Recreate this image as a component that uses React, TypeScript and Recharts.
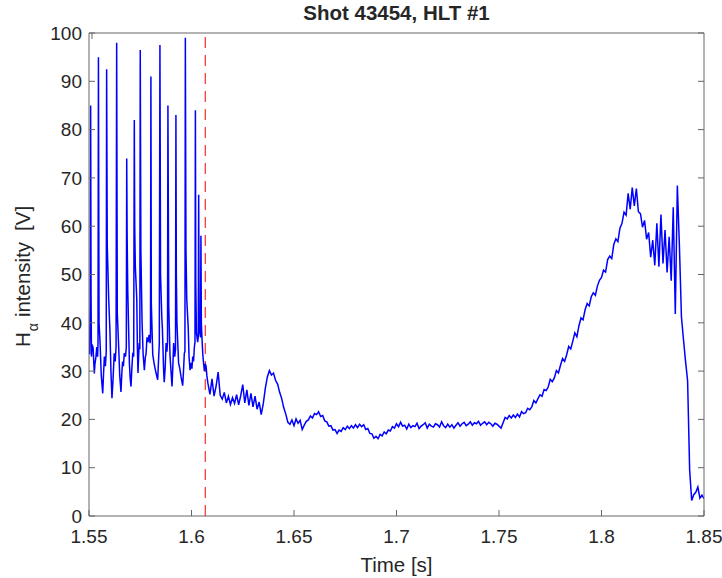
import React from 'react';
import { LineChart, Line, XAxis, YAxis, ReferenceLine } from 'recharts';

// ELM phase, irregular sampling so the spikes keep their shape
const elmTime = [
  1.5500, 1.5503, 1.5506, 1.5508, 1.5510, 1.5512, 1.5515, 1.5520, 1.5526, 1.5529,
  1.5534, 1.5538, 1.5542, 1.5544, 1.5546, 1.5549, 1.5554, 1.5560, 1.5567, 1.5571,
  1.5575, 1.5580, 1.5584, 1.5586, 1.5589, 1.5596, 1.5602, 1.5607, 1.5612, 1.5617,
  1.5623, 1.5628, 1.5632, 1.5635, 1.5638, 1.5645, 1.5650, 1.5656, 1.5660, 1.5664,
  1.5668, 1.5672, 1.5678, 1.5682, 1.5684, 1.5686, 1.5689, 1.5697, 1.5701, 1.5705,
  1.5709, 1.5713, 1.5718, 1.5721, 1.5723, 1.5726, 1.5733, 1.5736, 1.5739, 1.5742,
  1.5745, 1.5748, 1.5750, 1.5753, 1.5759, 1.5764, 1.5770, 1.5775, 1.5778, 1.5783,
  1.5788, 1.5793, 1.5798, 1.5800, 1.5802, 1.5804, 1.5811, 1.5818, 1.5827, 1.5835,
  1.5840, 1.5843, 1.5846, 1.5849, 1.5855, 1.5858, 1.5864, 1.5867, 1.5872, 1.5876,
  1.5880, 1.5883, 1.5885, 1.5889, 1.5895, 1.5900, 1.5905, 1.5909, 1.5913, 1.5918,
  1.5922, 1.5924, 1.5926, 1.5929, 1.5937, 1.5943, 1.5949, 1.5957, 1.5961, 1.5965,
  1.5968, 1.5970, 1.5973, 1.5977, 1.5984, 1.5988, 1.5993, 1.5998, 1.6002, 1.6006,
  1.6010, 1.6014, 1.6017, 1.6019, 1.6021, 1.6024, 1.6030, 1.6033, 1.6035, 1.6037,
  1.6040, 1.6044, 1.6046, 1.6048, 1.6051, 1.6055, 1.6058, 1.6063, 1.6067, 1.6071,
  1.6075,
];

const elmSignal = [
  36.0, 33.5, 44.0, 85.0, 46.0, 33.0, 35.5, 34.8, 29.5, 31.5,
  33.0, 35.0, 33.0, 36.0, 95.0, 40.0, 35.8, 29.0, 25.4, 29.5,
  33.0, 31.0, 34.0, 92.5, 56.0, 45.0, 38.5, 30.0, 24.4, 28.0,
  33.7, 32.0, 35.0, 98.0, 42.0, 34.8, 29.0, 25.7, 29.5, 32.0,
  31.0, 33.7, 33.0, 35.0, 74.0, 58.0, 46.8, 31.7, 28.5, 26.8,
  30.5, 33.4, 33.0, 82.0, 60.0, 51.6, 45.0, 35.0, 29.6, 33.0,
  35.8, 34.5, 96.5, 55.0, 39.9, 33.5, 30.2, 33.0, 33.4, 37.0,
  36.0, 37.5, 35.8, 37.0, 91.0, 44.0, 33.4, 31.5, 29.6, 28.2,
  33.0, 35.8, 97.5, 50.0, 41.3, 38.8, 30.2, 27.7, 31.0, 35.8,
  34.0, 36.0, 85.0, 43.7, 33.4, 30.0, 26.8, 31.0, 35.8, 33.0,
  34.5, 83.0, 50.0, 40.0, 31.7, 30.5, 28.8, 27.0, 30.0, 33.7,
  34.0, 99.0, 55.0, 44.7, 39.0, 33.0, 30.2, 31.7, 30.5, 33.0,
  32.0, 35.0, 36.0, 84.0, 48.0, 38.0, 36.0, 37.0, 66.5, 42.0,
  38.0, 37.0, 58.0, 40.0, 37.0, 33.5, 32.0, 30.0, 31.5, 31.0,
  29.0,
];

// L-mode phase, 1 ms sampling from 1.608 s
const lmodeStart = 1.608;
const lmodeSignal = [
  27.5, 25.2,
  28.4, 24.8, 26.9, 29.8, 25.0, 24.2, 25.6, 23.4, 24.8, 23.1, // 1.61
  24.5, 23.3, 25.1, 23.0, 24.9, 27.2, 23.4, 26.1, 22.9, 25.4, // 1.62
  22.6, 24.8, 22.1, 23.6, 21.0, 23.2, 26.4, 28.8, 30.1, 29.2, // 1.63
  29.6, 28.1, 27.3, 25.6, 24.3, 22.4, 21.1, 19.4, 19.0, 19.9, // 1.64
  18.7, 20.1, 19.2, 19.8, 17.9, 18.8, 19.6, 19.9, 20.7, 20.3, // 1.65
  21.2, 21.0, 21.6, 20.6, 20.8, 19.7, 19.5, 18.6, 18.7, 17.8, // 1.66
  17.9, 17.1, 17.8, 17.5, 18.3, 17.9, 18.6, 18.1, 18.7, 18.2, // 1.67
  18.9, 18.3, 19.0, 18.5, 18.9, 17.9, 18.1, 17.1, 17.0, 16.1, // 1.68
  16.5, 16.0, 16.9, 16.6, 17.4, 17.0, 17.8, 17.6, 18.5, 18.2, // 1.69
  19.1, 18.5, 19.4, 18.6, 18.8, 18.0, 19.0, 18.3, 18.7, 18.5, // 1.70
  19.2, 18.1, 18.6, 18.9, 19.3, 18.2, 19.0, 18.6, 18.4, 19.1, // 1.71
  18.9, 18.4, 19.5, 18.7, 18.3, 19.0, 18.4, 18.9, 18.2, 18.8, // 1.72
  19.3, 18.6, 19.1, 19.4, 18.7, 19.0, 19.5, 18.8, 19.3, 19.1, // 1.73
  19.6, 18.8, 19.2, 19.5, 18.9, 19.4, 19.1, 18.6, 19.2, 19.0, // 1.74
  18.6,
];

// rise towards the density limit and the final drop, 1 ms sampling from 1.751 s
const rampStart = 1.751;
const rampSignal = [
  18.2, 19.3, 20.4, 20.1, 20.8, 20.3, 20.9, 20.4, 21.1,
  20.5, 21.6, 21.2, 21.4, 22.3, 22.0, 22.6, 23.9, 23.4, 24.3, // 1.76
  25.1, 24.8, 26.2, 26.0, 26.7, 28.3, 27.8, 28.6, 30.1, 29.6, // 1.77
  31.2, 32.6, 32.0, 33.4, 35.1, 34.6, 36.2, 37.9, 37.1, 39.4, // 1.78
  41.0, 40.6, 42.7, 44.0, 43.5, 45.4, 46.2, 45.7, 47.6, 48.8, // 1.79
  49.4, 50.9, 50.5, 53.1, 53.8, 53.3, 56.2, 57.4, 56.8, 59.6, // 1.80
  60.6, 62.9, 62.3, 66.8, 63.5, 68.0, 64.2, 67.8, 63.0, 62.6, // 1.81
  59.8, 61.2, 57.3, 58.7, 53.6, 57.1, 51.9, 60.6, 51.6, 62.4, // 1.82
  52.3, 59.2, 50.4, 57.8, 48.7, 63.9, 41.8, 68.4, 56.0, 41.2, // 1.83
  36.5, 32.0, 28.0, 9.5, 3.2, 4.4, 4.9, 6.0, 3.7, 4.3,        // 1.84
  3.6,
];
const sampleStep = 0.001;

const hltTime = 1.6067;
const timeTicks = [1.55, 1.6, 1.65, 1.7, 1.75, 1.8, 1.85];
const intensityTicks = [0, 10, 20, 30, 40, 50, 60, 70, 80, 90, 100];

const FONT = '"Liberation Sans", Arial, Helvetica, sans-serif';
const INK = '#262626';
const AXIS = '#666666';

const sampled = (start: number, values: number[]) =>
  values.map((v, i) => ({ t: Math.round((start + i * sampleStep) * 1e4) / 1e4, v }));

const data = [
  ...elmTime.map((t, i) => ({ t, v: elmSignal[i] })),
  ...sampled(lmodeStart, lmodeSignal),
  ...sampled(rampStart, rampSignal),
];

const fmtTime = (value: number) => String(Number(value.toFixed(2)));
const blank = () => '';

const tickStyle = { fill: INK, fontSize: 19, fontFamily: FONT };

export default function App() {
  return (
    <div style={{ position: 'absolute', left: 0, top: 0, width: 722, height: 578, background: '#fff' }}>
      <LineChart width={722} height={578} data={data} margin={{ top: 28, right: 8, bottom: 12, left: 39 }}>
        <XAxis
          xAxisId="bottom"
          dataKey="t"
          type="number"
          domain={[1.55, 1.85]}
          ticks={timeTicks}
          allowDataOverflow
          height={50}
          tickSize={-6}
          tickMargin={20}
          tickFormatter={fmtTime}
          tick={tickStyle}
          axisLine={{ stroke: AXIS }}
          tickLine={{ stroke: AXIS }}
        />
        <XAxis
          xAxisId="top"
          orientation="top"
          type="number"
          domain={[1.55, 1.85]}
          ticks={timeTicks}
          allowDataOverflow
          height={5}
          tickSize={-6}
          tickFormatter={blank}
          axisLine={{ stroke: AXIS }}
          tickLine={{ stroke: AXIS }}
        />
        <YAxis
          yAxisId="left"
          type="number"
          domain={[0, 100]}
          ticks={intensityTicks}
          allowDataOverflow
          width={50}
          tickSize={-6}
          tickMargin={13}
          tick={tickStyle}
          axisLine={{ stroke: AXIS }}
          tickLine={{ stroke: AXIS }}
        />
        <YAxis
          yAxisId="right"
          orientation="right"
          type="number"
          domain={[0, 100]}
          ticks={intensityTicks}
          allowDataOverflow
          width={10}
          tickSize={-6}
          tickFormatter={blank}
          axisLine={{ stroke: AXIS }}
          tickLine={{ stroke: AXIS }}
        />
        <ReferenceLine
          xAxisId="bottom"
          yAxisId="left"
          x={hltTime}
          stroke="#ff0000"
          strokeDasharray="11 7"
          strokeWidth={1}
        />
        <Line
          xAxisId="bottom"
          yAxisId="left"
          type="linear"
          dataKey="v"
          stroke="#0000ff"
          strokeWidth={1.5}
          strokeLinejoin="miter"
          dot={false}
          activeDot={false}
          isAnimationActive={false}
        />
      </LineChart>
      <svg
        width={722}
        height={578}
        style={{ position: 'absolute', left: 0, top: 0, pointerEvents: 'none' }}
        fontFamily={FONT}
        fill={INK}
      >
        <text x={396.5} y={20} textAnchor="middle" fontSize={20.5} fontWeight="bold">
          Shot 43454, HLT #1
        </text>
        <text x={396.5} y={572} textAnchor="middle" fontSize={20.5}>
          Time [s]
        </text>
        <text transform="translate(30,347) rotate(-90)" fontSize={20.5}>
          <tspan>H</tspan>
          <tspan fontSize={14} dx={1} dy={8}>α</tspan>
          <tspan dx={6} dy={-8}>intensity</tspan>
          <tspan dx={11}>[V]</tspan>
        </text>
      </svg>
    </div>
  );
}
